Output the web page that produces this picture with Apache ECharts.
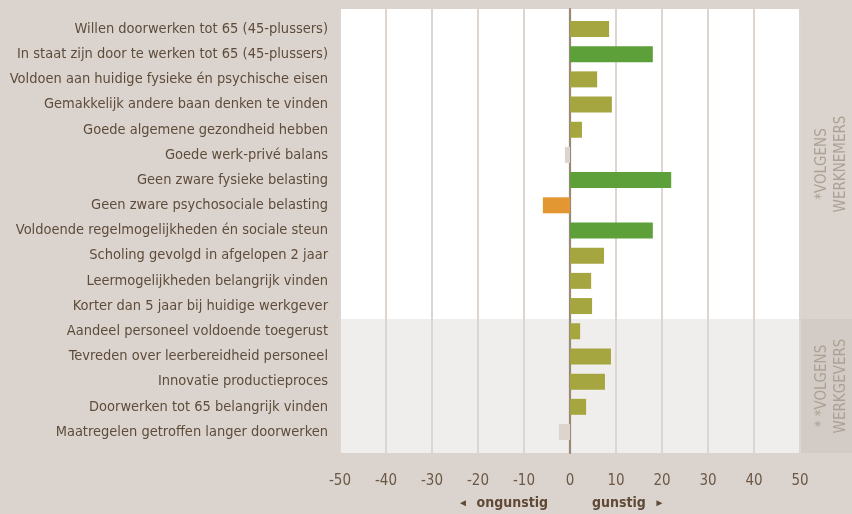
<!DOCTYPE html>
<html>
<head>
<meta charset="utf-8">
<style>
  html, body { margin: 0; padding: 0; background: #dbd4ce; }
  #chart { width: 852px; height: 514px; }
</style>
<script src="https://cdn.jsdelivr.net/npm/echarts@6/dist/echarts.min.js"></script>
</head>
<body>
<div id="chart"></div>
<script>
// Factors, top to bottom
const categories = [
  'Willen doorwerken tot 65 (45-plussers)',
  'In staat zijn door te werken tot 65 (45-plussers)',
  'Voldoen aan huidige fysieke én psychische eisen',
  'Gemakkelijk andere baan denken te vinden',
  'Goede algemene gezondheid hebben',
  'Goede werk-privé balans',
  'Geen zware fysieke belasting',
  'Geen zware psychosociale belasting',
  'Voldoende regelmogelijkheden én sociale steun',
  'Scholing gevolgd in afgelopen 2 jaar',
  'Leermogelijkheden belangrijk vinden',
  'Korter dan 5 jaar bij huidige werkgever',
  'Aandeel personeel voldoende toegerust',
  'Tevreden over leerbereidheid personeel',
  'Innovatie productieproces',
  'Doorwerken tot 65 belangrijk vinden',
  'Maatregelen getroffen langer doorwerken'
];

// Effect per factor (negative = ongunstig, positive = gunstig)
const values = [8.5, 18, 5.9, 9.1, 2.6, -1.1, 22, -5.9, 18, 7.4, 4.6, 4.8, 2.2, 8.9, 7.6, 3.5, -2.4];

// Colour class of each bar
const classes = ['mid', 'strong', 'mid', 'mid', 'mid', 'weak', 'strong', 'neg', 'strong', 'mid', 'mid', 'mid', 'mid', 'mid', 'mid', 'mid', 'weak'];

const ticks = [-50, -40, -30, -20, -10, 0, 10, 20, 30, 40, 50];

const palette = { mid: '#a5a640', strong: '#5d9f38', neg: '#e29733', weak: '#dcd5cf' };

const chart = echarts.init(document.getElementById('chart'));
const FONT = '"DejaVu Sans Condensed", "Liberation Sans Narrow", sans-serif';

chart.setOption({
  backgroundColor: '#dbd4ce',
  animation: false,
  textStyle: { fontFamily: FONT },
  graphic: [
    // white plot panel
    { type: 'rect', z: -20, silent: true, shape: { x: 341, y: 9, width: 459, height: 310 }, style: { fill: '#ffffff' } },
    // employer section panel
    { type: 'rect', z: -20, silent: true, shape: { x: 341, y: 319, width: 458, height: 134 }, style: { fill: '#f0eeec' } },
    { type: 'rect', z: -20, silent: true, shape: { x: 799, y: 319, width: 53, height: 134 }, style: { fill: '#d3ccc6' } },
    {
      type: 'text', z: 5, silent: true, x: 832, y: 164, rotation: Math.PI / 2,
      style: { text: '*VOLGENS\nWERKNEMERS', fill: '#ada195', font: '15px ' + FONT, align: 'center', verticalAlign: 'middle', lineHeight: 19 }
    },
    {
      type: 'text', z: 5, silent: true, x: 832, y: 386, rotation: Math.PI / 2,
      style: { text: '* *VOLGENS\nWERKGEVERS', fill: '#ada195', font: '15px ' + FONT, align: 'center', verticalAlign: 'middle', lineHeight: 19 }
    },
    {
      type: 'text', z: 5, silent: true, x: 548, y: 503,
      style: {
        text: '{a|◄}  ongunstig', fill: '#5e4a37', font: 'bold 14px ' + FONT, align: 'right', verticalAlign: 'middle',
        rich: { a: { fontSize: 10, fill: '#5e4a37' } }
      }
    },
    {
      type: 'text', z: 5, silent: true, x: 592, y: 503,
      style: {
        text: 'gunstig  {a|►}', fill: '#5e4a37', font: 'bold 14px ' + FONT, align: 'left', verticalAlign: 'middle',
        rich: { a: { fontSize: 10, fill: '#5e4a37' } }
      }
    }
  ],
  grid: [
    // full-height frame: split lines, tick labels and zero line
    { left: 340, right: 52, top: 9, bottom: 61 },
    // bars
    { left: 340, right: 52, top: 16.4, bottom: 69.4 }
  ],
  xAxis: [
    {
      gridIndex: 0, type: 'value', min: ticks[0], max: ticks[ticks.length - 1], interval: 10,
      axisLine: { show: false }, axisTick: { show: false },
      splitLine: { show: true, lineStyle: { color: '#ddd6d0', width: 2 } },
      axisLabel: { color: '#6b5846', fontSize: 15, margin: 21, fontFamily: FONT,
        formatter: v => ticks.includes(v) ? String(v) : '' }
    },
    {
      gridIndex: 1, type: 'value', min: -50, max: 50, interval: 10, show: false
    }
  ],
  yAxis: [
    {
      gridIndex: 0, type: 'value', min: 0, max: 1,
      axisLine: { show: true, onZero: true, lineStyle: { color: '#9a8977', width: 2.2 } },
      axisTick: { show: false }, axisLabel: { show: false }, splitLine: { show: false }
    },
    {
      gridIndex: 1, type: 'category', data: categories, inverse: true,
      axisLine: { show: false }, axisTick: { show: false }, splitLine: { show: false },
      axisLabel: { color: '#5e4c3b', fontSize: 14.5, margin: 12, fontFamily: FONT }
    }
  ],
  series: [
    {
      type: 'bar', xAxisIndex: 1, yAxisIndex: 1, barWidth: 16,
      data: values.map((v, i) => ({ value: v, itemStyle: { color: palette[classes[i]] } }))
    }
  ]
});
</script>
</body>
</html>
